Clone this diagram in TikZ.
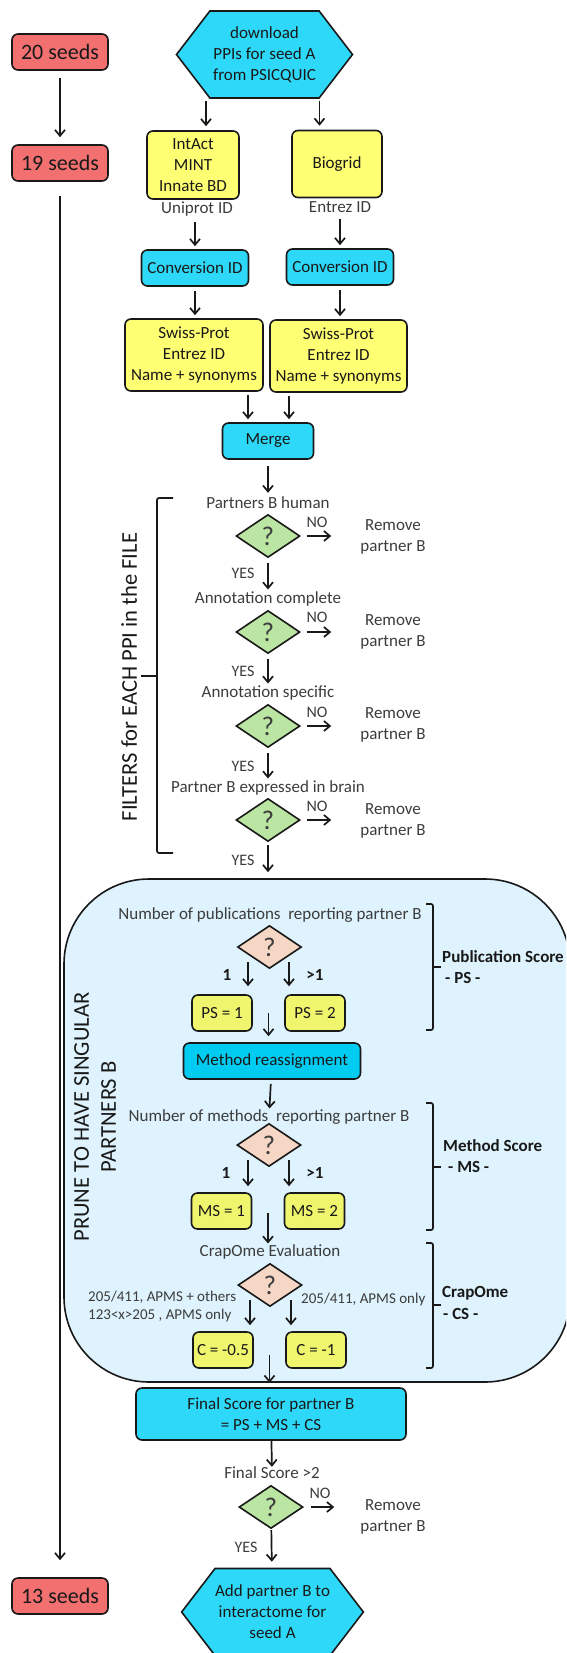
\documentclass[tikz,border=0pt]{standalone}
\usepackage{fontspec}
\setmainfont{Carlito}
\usetikzlibrary{shapes.geometric,shapes.symbols,arrows.meta,calc}

\definecolor{seedred}{RGB}{242,112,112}
\definecolor{cyanbox}{RGB}{46,216,248}
\definecolor{mrcyan}{RGB}{0,204,242}
\definecolor{dbyellow}{RGB}{255,255,115}
\definecolor{scoreyellow}{RGB}{240,245,110}
\definecolor{greendia}{RGB}{186,229,162}
\definecolor{peachdia}{RGB}{246,214,196}
\definecolor{prunebg}{RGB}{222,243,253}
\definecolor{txt}{RGB}{25,25,25}
\definecolor{gtxt}{RGB}{60,60,60}

\tikzset{
  arr/.style={-{Straight Barb[length=6pt,width=10pt]}, line width=1.7pt, draw=black!90},
  box/.style={draw=black!90, line width=1.6pt, rounded corners=6pt, align=center, inner sep=0pt, text=txt, font=\fontsize{17}{21}\selectfont},
  seedbox/.style={box, fill=seedred, minimum width=96pt, minimum height=36pt, font=\fontsize{22}{26}\selectfont},
  dbbox/.style={box, fill=dbyellow},
  convbox/.style={box, fill=cyanbox, minimum width=107pt, minimum height=36pt},
  scorebox/.style={box, fill=scoreyellow, minimum width=60pt, minimum height=36pt},
  hexbox/.style={shape=signal, signal to=east and west, signal pointer angle=105, draw=black!90, line width=1.6pt, fill=cyanbox, align=center, inner sep=0pt, minimum width=176pt, minimum height=87pt, text=txt, font=\fontsize{17}{21}\selectfont},
  quest/.style={diamond, draw=black!90, line width=1.6pt, minimum width=64pt, minimum height=43pt, inner sep=0pt, text=gtxt, font=\fontsize{27}{30}\selectfont},
  lbl/.style={inner sep=0pt, align=center, text=gtxt, font=\fontsize{17}{21}\selectfont},
  yn/.style={inner sep=0pt, text=gtxt, font=\fontsize{16}{19}\selectfont},
  small/.style={inner sep=0pt, text=gtxt, font=\fontsize{15}{18}\selectfont},
  num/.style={inner sep=0pt, text=txt, font=\fontsize{17}{21}\selectfont\bfseries},
  side/.style={inner sep=0pt, anchor=west, text=txt, font=\fontsize{17}{21}\selectfont\bfseries},
  rotlbl/.style={inner sep=0pt, align=center, rotate=90, text=txt, font=\fontsize{22.6}{27}\selectfont},
  brace/.style={line width=1.7pt, draw=black!90, rounded corners=2pt},
  prunebox/.style={draw=black!90, line width=1.6pt, fill=prunebg, rounded corners=85pt, minimum width=506pt, minimum height=503pt},
}

\begin{document}
\begin{tikzpicture}[x=1pt,y=-1pt]
    \useasboundingbox (0,0) rectangle (566,1653);
    \clip (0,0) rectangle (566,1653);

    % Pruning area (behind everything)
    \node[prunebox] (prune) at (317,1130.5) {};

    % Seeds column
    \node[seedbox] (s20) at (60,52) {20 seeds};
    \node[seedbox] (s19) at (60,163) {19 seeds};
    \node[seedbox] (s13) at (60,1596) {13 seeds};
    \draw[arr, shorten <=7pt, shorten >=7pt] (s20) -- (s19);
    \draw[arr, shorten <=14pt, shorten >=17pt] (s19) -- (s13);

    % Download from PSICQUIC
    \node[hexbox] (dl) at (264.5,54.5) {download\\PPIs for seed A\\from PSICQUIC};
    \node[dbbox, minimum width=92pt, minimum height=68pt] (ia) at (193,165) {IntAct\\MINT\\Innate BD};
    \node[dbbox, minimum width=90pt, minimum height=67pt] (bg) at (337,164) {Biogrid};
    \node[lbl] (uni) at (197,209) {Uniprot ID};
    \node[lbl] (ent) at (340,207) {Entrez ID};
    \draw[arr, shorten <=2pt, shorten >=4pt] ($(dl.south)+(-58.5,0)$) -- ($(ia.north)+(13,0)$);
    \draw[arr, shorten <=2pt, shorten >=4pt] ($(dl.south)+(55,0)$) -- ($(bg.north)+(-17.5,0)$);

    % ID conversion
    \node[convbox] (cv1) at (195,268) {Conversion ID};
    \node[convbox] (cv2) at (340,267) {Conversion ID};
    \draw[arr, shorten <=6pt, shorten >=3pt] (cv1.north |- uni.south) -- (cv1.north);
    \draw[arr, shorten <=6pt, shorten >=3pt] (cv2.north |- ent.south) -- (cv2.north);

    \node[dbbox, minimum width=138pt, minimum height=72pt] (sp1) at (194,355) {Swiss-Prot\\Entrez ID\\Name + synonyms};
    \node[dbbox, minimum width=137pt, minimum height=72pt] (sp2) at (338.5,356) {Swiss-Prot\\Entrez ID\\Name + synonyms};
    \draw[arr, shorten <=4pt, shorten >=3pt] (cv1.south) -- (cv1.south |- sp1.north);
    \draw[arr, shorten <=4pt, shorten >=3pt] (cv2.south) -- (cv2.south |- sp2.north);

    % Merge
    \node[convbox, minimum width=91pt] (mrg) at (268,441) {Merge};
    \coordinate (mL) at ($(mrg.north)+(-20,0)$);
    \coordinate (mR) at ($(mrg.north)+(21,0)$);
    \draw[arr, shorten <=3pt, shorten >=3pt] (mL |- sp1.south) -- (mL);
    \draw[arr, shorten <=3pt, shorten >=3pt] (mR |- sp2.south) -- (mR);

    % Filters for each PPI
    \node[lbl] (t1) at (268,503) {Partners B human};
    \node[quest, fill=greendia] (q1) at (268,536) {?};
    \node[yn] (n1) at (317,522) {NO};
    \node[lbl] (r1) at (393,536.5) {Remove\\partner B};
    \node[yn] (y1) at (243,573) {YES};
    \draw[arr, shorten <=6pt, shorten >=4pt] (mrg) -- (t1);
    \draw[arr, shorten <=6pt, shorten >=29pt] (q1.east) -- (q1.east -| r1.west);

    \node[lbl] (t2) at (268,599) {Annotation complete};
    \node[quest, fill=greendia] (q2) at (268,632) {?};
    \node[yn] (n2) at (317,617) {NO};
    \node[lbl] (r2) at (393,631.5) {Remove\\partner B};
    \node[yn] (y2) at (243,671) {YES};
    \draw[arr, shorten <=5pt, shorten >=2pt] (q1) -- (t2);
    \draw[arr, shorten <=6pt, shorten >=29pt] (q2.east) -- (q2.east -| r2.west);

    \node[lbl] (t3) at (268,693) {Annotation specific};
    \node[quest, fill=greendia] (q3) at (268,726) {?};
    \node[yn] (n3) at (317,712) {NO};
    \node[lbl] (r3) at (393,725) {Remove\\partner B};
    \node[yn] (y3) at (243,766) {YES};
    \draw[arr, shorten <=5pt, shorten >=2pt] (q2) -- (t3);
    \draw[arr, shorten <=6pt, shorten >=29pt] (q3.east) -- (q3.east -| r3.west);

    \node[lbl] (t4) at (268,788) {Partner B expressed in brain};
    \node[quest, fill=greendia] (q4) at (268,820) {?};
    \node[yn] (n4) at (317,806) {NO};
    \node[lbl] (r4) at (393,821) {Remove\\partner B};
    \node[yn] (y4) at (243,860) {YES};
    \draw[arr, shorten <=5pt, shorten >=2pt] (q3) -- (t4);
    \draw[arr, shorten <=6pt, shorten >=29pt] (q4.east) -- (q4.east -| r4.west);
    \draw[arr, shorten <=3pt, shorten >=6pt] (q4.south) -- (q4.south |- prune.north);

    \draw[brace] (173,498) -- (157,498) -- (157,853) -- (173,853);
    \draw[brace] (157,676) -- (141,676);
    \node[rotlbl] (flt) at (129,677) {FILTERS for EACH PPI in the FILE};

    % Pruning
    \node[rotlbl] (prn) at (95,1117) {PRUNE TO HAVE SINGULAR\\PARTNERS B};

    % Publication score
    \node[lbl] (tp) at (270,915) {Number of publications~ reporting partner B};
    \node[quest, fill=peachdia] (qp) at (269.5,947) {?};
    \node[scorebox] (ps1) at (222,1013) {PS = 1};
    \node[scorebox] (ps2) at (315,1013) {PS = 2};
    \node[num] (pa) at (227,975) {1};
    \node[num] (pb) at (315,975) {>1};
    \coordinate (pL) at ($(qp.center)+(-21.5,15)$);
    \coordinate (pR) at ($(qp.center)+(19.5,15)$);
    \draw[arr, shorten >=8pt] (pL) -- (pL |- ps1.north);
    \draw[arr, shorten >=8pt] (pR) -- (pR |- ps2.north);

    \node[convbox, fill=mrcyan, minimum width=177pt] (mr) at (272,1061) {Method reassignment};
    \coordinate (psmid) at ($(ps1.east)!0.5!(ps2.west)$);
    \draw[arr, shorten >=6pt] (psmid) -- (psmid |- mr.north);

    \draw[brace] (426,904) -- (433,904) -- (433,1030) -- (426,1030);
    \draw[brace] (433,967) -- (441,967);
    \node[side] (psl) at (442,957) {Publication Score};
    \node[side] (pss) at (445,978) {- PS -};

    % Method score
    \node[lbl] (tm) at (269,1117) {Number of methods~ reporting partner B};
    \draw[arr, shorten <=4pt, shorten >=1pt] (mr) -- (tm);
    \node[quest, fill=peachdia] (qm) at (269,1145) {?};
    \node[scorebox] (ms1) at (221.5,1211) {MS = 1};
    \node[scorebox] (ms2) at (314.5,1211) {MS = 2};
    \node[num] (ma) at (226,1173) {1};
    \node[num] (mb) at (315,1173) {>1};
    \coordinate (mqL) at ($(qm.center)+(-21,15)$);
    \coordinate (mqR) at ($(qm.center)+(20,15)$);
    \draw[arr, shorten >=6pt] (mqL) -- (mqL |- ms1.north);
    \draw[arr, shorten >=6pt] (mqR) -- (mqR |- ms2.north);

    \draw[brace] (426,1103) -- (433,1103) -- (433,1230) -- (426,1230);
    \draw[brace] (433,1167) -- (441,1167);
    \node[side] (msl) at (443,1146) {Method Score};
    \node[side] (mss) at (448,1167) {- MS -};

    % CrapOme score
    \node[lbl] (tc) at (270,1252) {CrapOme Evaluation};
    \coordinate (msmid) at ($(ms1.east)!0.5!(ms2.west)$);
    \draw[arr, shorten <=2pt, shorten >=1pt] (msmid) -- (msmid |- tc.north);
    \node[quest, fill=peachdia] (qc) at (270,1285) {?};
    \node[small, align=left, anchor=west] (cl) at (88,1306) {205/411, APMS + others\\123<x>205 , APMS only};
    \node[small, anchor=west] (cr) at (301,1299) {205/411, APMS only};
    \node[scorebox] (c1) at (223,1350) {C = -0.5};
    \node[scorebox] (c2) at (316,1350) {C = -1};
    \coordinate (cqL) at ($(qc.center)+(-20,15)$);
    \coordinate (cqR) at ($(qc.center)+(21,15)$);
    \draw[arr, shorten >=6pt] (cqL) -- (cqL |- c1.north);
    \draw[arr, shorten >=6pt] (cqR) -- (cqR |- c2.north);
    \coordinate (cmid) at ($(c1.east)!0.5!(c2.west)$);
    \draw[arr] ($(cmid)+(0,5)$) -- (cmid |- prune.south);

    \draw[brace] (426,1243) -- (433,1243) -- (433,1368) -- (426,1368);
    \draw[brace] (433,1305) -- (441,1305);
    \node[side] (csl) at (442,1293) {CrapOme};
    \node[side] (css) at (443,1314) {- CS -};

    % Final score
    \node[convbox, minimum width=270pt, minimum height=52pt] (fin) at (271,1414) {Final Score for partner B\\= PS + MS + CS};
    \node[lbl] (tf) at (272,1473) {Final Score >2};
    \draw[arr] (fin) -- (tf);
    \node[quest, fill=greendia] (qf) at (271,1507) {?};
    \node[yn] (nf) at (320,1493) {NO};
    \node[lbl] (rf) at (393,1516.5) {Remove\\partner B};
    \node[yn] (yf) at (246,1547) {YES};
    \draw[arr, shorten <=7pt, shorten >=26pt] (qf.east) -- (qf.east -| rf.west);
    \node[hexbox] (add) at (272.5,1612) {Add partner B to\\interactome for\\seed A};
    \draw[arr, shorten <=1pt, shorten >=6pt] (qf) -- (add);
\end{tikzpicture}
\end{document}
